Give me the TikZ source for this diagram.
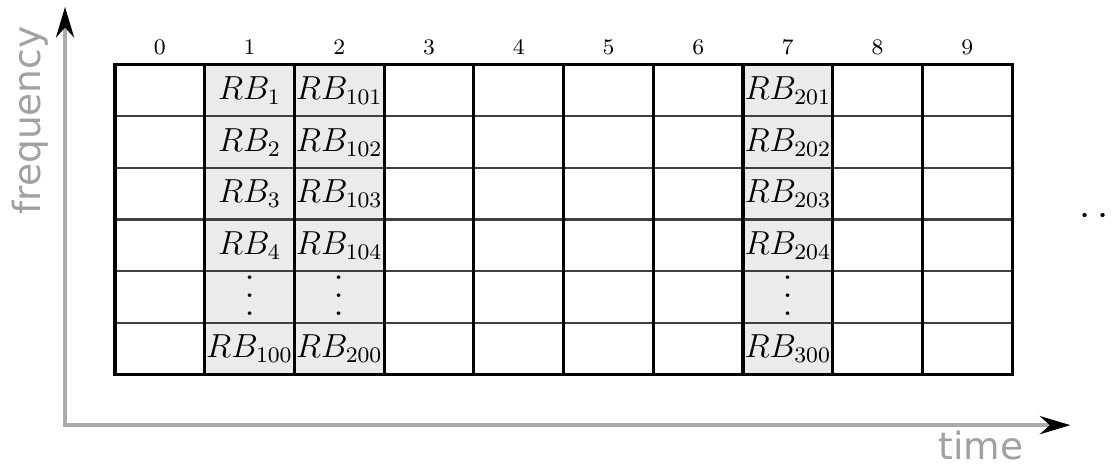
\documentclass[tikz,border=0pt]{standalone}
\usepackage{fontspec}
\newfontfamily\axisfont{DejaVu Sans}
\usetikzlibrary{arrows.meta}

% tall vertical dots for the skipped blocks
\newcommand{\skipdots}{\vbox{\baselineskip6.5pt\lineskiplimit0pt\hbox{.}\hbox{.}\hbox{.}}}

\begin{document}
\begin{tikzpicture}[x=1.135cm,y=0.652cm,>={Stealth[length=11pt,width=6.5pt,black]}]
\tikzstyle{rb node}=[inner sep=0pt,font=\fontsize{11.5}{14}\selectfont]
\tikzstyle{dots node}=[inner sep=0pt,font=\fontsize{16}{18}\selectfont]
\tikzstyle{col label}=[inner sep=0pt,font=\footnotesize]

\tikzset{
	used cell/.style={fill=black!8},
	row line/.style={draw=black!75,line width=0.75pt},
	col line/.style={draw=black,line width=1.1pt},
	axis line/.style={draw=black!33,line width=1.5pt},
	axis label/.style={inner sep=0pt,text=black!37,font=\axisfont\fontsize{13.5}{16}\selectfont}
}

    \useasboundingbox (-1.282,-1.748) rectangle (11.18,7.26);

    % occupied slots
    \foreach \c in {1,2,7}
        \fill[used cell] (\c,0) rectangle (\c+1,6);

    % grid
    \foreach \r in {1,...,5}
        \draw[row line] (0,\r) -- (10,\r);
    \foreach \c in {1,...,9}
        \draw[col line] (\c,0) -- (\c,6);
    \draw[col line] (0,0) rectangle (10,6);

    % slot numbers
    \foreach \c in {0,...,9}
        \node[col label] (t\c) at (\c+0.5,6.35) {\c};

    % resource blocks
    \foreach \c/\n in {1/0,2/100,7/200}{
        \foreach \r in {1,...,4}{
            \pgfmathtruncatemacro\k{\n+\r}
            \node[rb node] (rb\c-\r) at (\c+0.5,6.5-\r) {$RB_{\k}$};
        }
        \node[dots node] (dots\c) at (\c+0.5,1.53) {\skipdots};
        \pgfmathtruncatemacro\k{\n+100}
        \node[rb node] (rb\c-6) at (\c+0.5,0.5) {$RB_{\k}$};
    }

    \node[inner sep=0pt,anchor=base west,font=\Large] (more) at (10.75,2.876) {$\cdots$};

    % axes
    \coordinate (O) at (-0.557,-0.99);
    \coordinate (ftip) at (-0.557,7.126);
    \coordinate (ttip) at (10.65,-0.99);
    \draw[axis line,<->] (ftip) -- (O) -- (ttip);

    \node[axis label,rotate=90] (freq) at (-0.948,4.92) {frequency};
    \node[axis label,anchor=base] (time) at (9.65,-1.65) {time};
\end{tikzpicture}
\end{document}
